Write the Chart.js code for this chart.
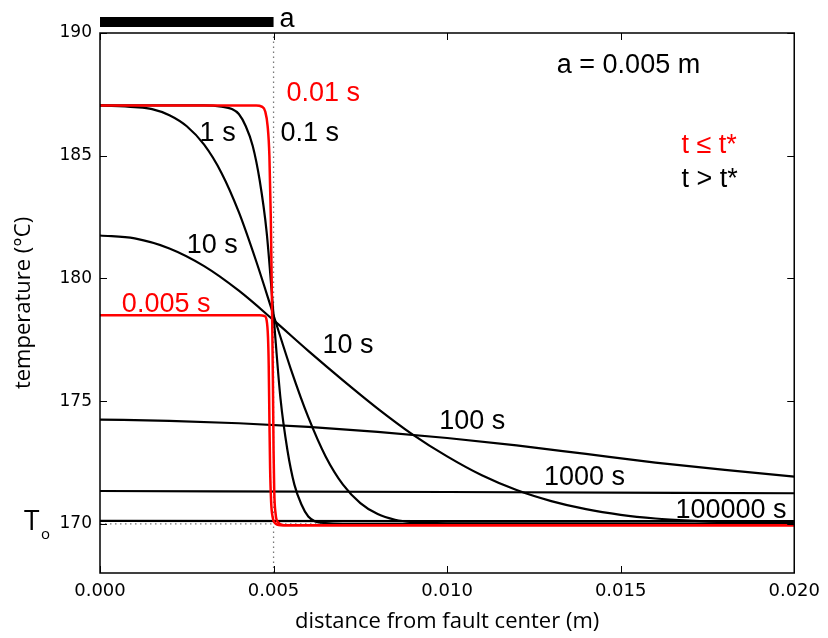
<!DOCTYPE html>
<html>
<head>
<meta charset="utf-8">
<script src="https://cdn.jsdelivr.net/npm/chart.js@4.4.1/dist/chart.umd.min.js"></script>
<style>
  html, body { margin: 0; padding: 0; background: #fff; }
</style>
</head>
<body>
<canvas id="chart" width="828" height="638"></canvas>
<script>
// tick values
var xTicks = [0, 0.005, 0.010, 0.015, 0.020];
var yTicks = [170, 175, 180, 185, 190];

// fault half width and initial temperature
var halfWidth = 0.005;
var T0 = 170;

// profiles [distance (m), temperature (C)]
// t <= t* (red)
var t0005 = [[0, 178.5], [0.0046, 178.5], [0.00474, 178.47], [0.0048, 178.3], [0.00484, 177.6], [0.00486, 176.5],
  [0.00488, 174.3], [0.0049, 172.3], [0.00493, 170.9], [0.00497, 170.3], [0.00503, 170.05], [0.0052, 169.95], [0.02, 169.95]];
var t001 = [[0, 187.05], [0.0045, 187.05], [0.00466, 187.0], [0.00476, 186.8], [0.00483, 186.2], [0.00488, 185.0],
  [0.00492, 182.5], [0.00495, 179.5], [0.00498, 176], [0.005, 173], [0.00502, 171.3], [0.00506, 170.4], [0.00512, 170.08],
  [0.0053, 169.95], [0.02, 169.95]];
// t > t* (black)
var t01 = [[0, 187.05], [0.003, 187.05], [0.0035, 187.0], [0.0038, 186.9], [0.004, 186.7], [0.0042, 186.2], [0.0044, 185.4],
  [0.0046, 184.0], [0.0048, 181.9], [0.005, 178.5], [0.0052, 175.1], [0.0054, 173.0], [0.0056, 171.6], [0.0058, 170.8],
  [0.006, 170.3], [0.0062, 170.1], [0.0065, 170.03], [0.007, 170.0], [0.02, 170.0]];
var t1 = [[0, 187.05], [0.001, 186.98], [0.0015, 186.9], [0.002, 186.65], [0.0025, 186.2], [0.003, 185.45], [0.0035, 184.3],
  [0.004, 182.7], [0.0045, 180.7], [0.005, 178.5], [0.0055, 176.3], [0.006, 174.35], [0.0065, 172.75], [0.007, 171.6],
  [0.0075, 170.85], [0.008, 170.4], [0.0085, 170.17], [0.009, 170.07], [0.01, 170.02], [0.02, 170.0]];
var t10 = [[0, 181.75], [0.001, 181.63], [0.002, 181.22], [0.003, 180.5], [0.004, 179.5], [0.005, 178.3], [0.006, 177.05],
  [0.007, 175.85], [0.008, 174.7], [0.009, 173.65], [0.01, 172.75], [0.011, 171.98], [0.012, 171.38], [0.013, 170.93],
  [0.014, 170.6], [0.015, 170.37], [0.016, 170.22], [0.017, 170.13], [0.018, 170.07], [0.02, 170.03]];
var t100 = [[0, 174.25], [0.002, 174.2], [0.004, 174.1], [0.006, 173.95], [0.008, 173.75], [0.01, 173.5], [0.012, 173.2],
  [0.014, 172.85], [0.016, 172.5], [0.018, 172.2], [0.02, 171.93]];
var t1000 = [[0, 171.34], [0.01, 171.3], [0.02, 171.25]];
var t100000 = [[0, 170.12], [0.02, 170.11]];

// curve labels [text, x, y, colour]
var labels = [
  ['0.01 s', 0.00537, 187.23, 'red'],
  ['1 s', 0.00287, 185.6, 'black'],
  ['0.1 s', 0.0052, 185.6, 'black'],
  ['10 s', 0.0025, 181.04, 'black'],
  ['0.005 s', 0.00063, 178.64, 'red'],
  ['10 s', 0.00641, 176.97, 'black'],
  ['100 s', 0.00977, 173.87, 'black'],
  ['1000 s', 0.01279, 171.59, 'black'],
  ['100000 s', 0.01658, 170.24, 'black'],
  ['a = 0.005 m', 0.01316, 188.37, 'black'],
  ['t \u2264 t*', 0.01675, 185.11, 'red'],
  ['t > t*', 0.01675, 183.73, 'black'],
  ['a', 0.00517, 190.24, 'black']
];

var red = '#ff0000';
var black = '#000000';

function curve(data, color, w) {
  return { data: data, borderColor: color, borderWidth: w, pointRadius: 0, fill: false, cubicInterpolationMode: 'monotone' };
}
function dotted(data) {
  return { data: data, borderColor: '#777', borderWidth: 1.3, borderDash: [1.5, 3.5], pointRadius: 0, fill: false, tension: 0 };
}

var decor = {
  id: 'decor',
  afterDraw: function (chart) {
    var ctx = chart.ctx, a = chart.chartArea, x = chart.scales.x, y = chart.scales.y;
    ctx.save();
    ctx.strokeStyle = '#000';
    ctx.lineWidth = 1;
    ctx.beginPath();
    xTicks.forEach(function (v) {
      var px = Math.round(x.getPixelForValue(v)) + 0.5;
      ctx.moveTo(px, a.bottom); ctx.lineTo(px, a.bottom - 7);
      ctx.moveTo(px, a.top); ctx.lineTo(px, a.top + 7);
    });
    yTicks.forEach(function (v) {
      var py = Math.round(y.getPixelForValue(v)) + 0.5;
      ctx.moveTo(a.left, py); ctx.lineTo(a.left + 7, py);
      ctx.moveTo(a.right, py); ctx.lineTo(a.right - 7, py);
    });
    ctx.stroke();
    ctx.lineWidth = 1.5;
    ctx.strokeRect(a.left, a.top, a.right - a.left, a.bottom - a.top);

    // bar showing the fault half width
    var x0 = x.getPixelForValue(0), x1 = x.getPixelForValue(halfWidth);
    ctx.fillStyle = '#000';
    ctx.fillRect(x0, a.top - 16, x1 - x0, 10);

    ctx.font = '27px "Liberation Sans", Arial, sans-serif';
    ctx.textBaseline = 'alphabetic';
    ctx.textAlign = 'left';
    labels.forEach(function (l) {
      ctx.fillStyle = l[3] === 'red' ? red : black;
      ctx.fillText(l[0], x.getPixelForValue(l[1]), y.getPixelForValue(l[2]));
    });

    // T_o marker next to the 170 tick
    var py0 = y.getPixelForValue(T0);
    ctx.fillStyle = '#000';
    ctx.font = '28px "Open Sans", sans-serif';
    ctx.fillText('T', 24, py0 + 6);
    ctx.font = '15px "Open Sans", sans-serif';
    ctx.fillText('o', 41, py0 + 15);
    ctx.restore();
  }
};

new Chart(document.getElementById('chart'), {
  type: 'line',
  data: {
    datasets: [
      curve(t0005, red, 2.5),
      curve(t001, red, 2.5),
      curve(t01, black, 2.2),
      curve(t1, black, 2.2),
      curve(t10, black, 2.2),
      curve(t100, black, 2.2),
      curve(t1000, black, 2.2),
      curve(t100000, black, 2.2),
      dotted([[0, T0], [xTicks[xTicks.length - 1], T0]]),
      dotted([[halfWidth, 168], [halfWidth, yTicks[yTicks.length - 1]]])
    ]
  },
  options: {
    responsive: false,
    animation: false,
    layout: { padding: { left: 0, right: 32, top: 33, bottom: 0 } },
    plugins: { legend: { display: false }, tooltip: { enabled: false } },
    scales: {
      x: {
        type: 'linear', min: 0, max: 0.02,
        afterFit: function (s) { s.height = 65; },
        afterBuildTicks: function (s) { s.ticks = xTicks.map(function (v) { return { value: v }; }); },
        grid: { display: false, drawTicks: false },
        border: { display: false },
        ticks: { color: '#000', padding: 8, font: { family: 'DejaVu Sans', size: 18 }, callback: function (v) { return v.toFixed(3); } },
        title: { display: true, text: 'distance from fault center (m)', color: '#000', padding: { top: 0, bottom: 3 }, font: { family: 'Open Sans', size: 22 } }
      },
      y: {
        type: 'linear', min: 168, max: 190,
        afterFit: function (s) { s.width = 100; },
        afterBuildTicks: function (s) { s.ticks = yTicks.map(function (v) { return { value: v }; }); },
        grid: { display: false, drawTicks: false },
        border: { display: false },
        ticks: { color: '#000', padding: 8, font: { family: 'DejaVu Sans', size: 17 } },
        title: { display: true, text: 'temperature (\u00b0C)', color: '#000', padding: { top: 11, bottom: 0 }, font: { family: 'Open Sans', size: 22 } }
      }
    }
  },
  plugins: [decor]
});
</script>
</body>
</html>
